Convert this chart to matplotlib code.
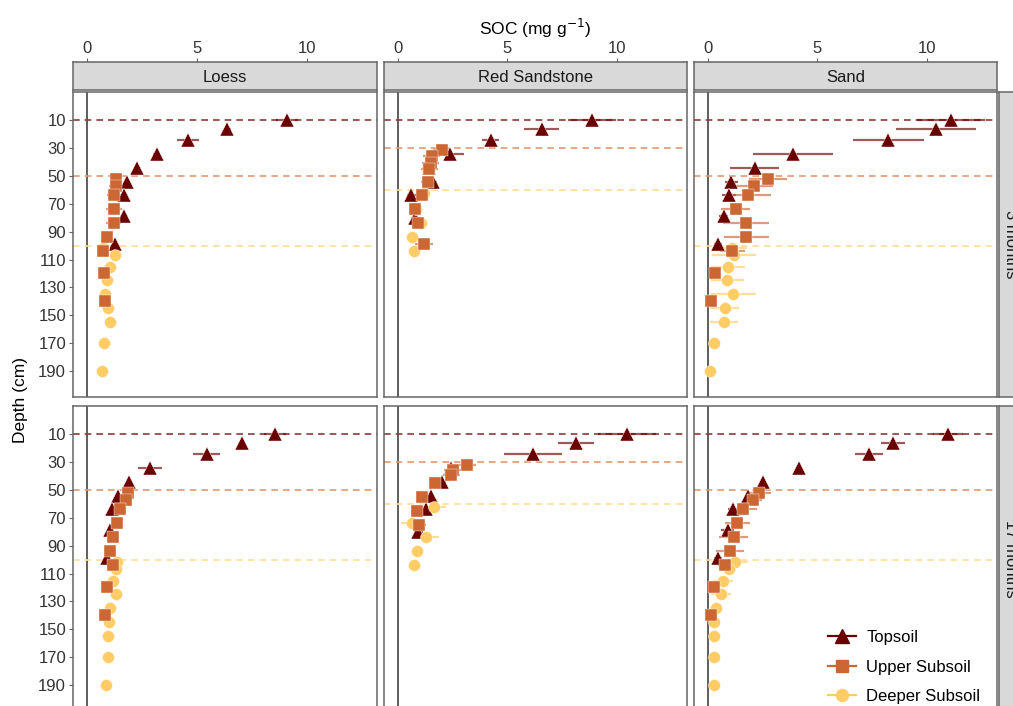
import matplotlib.pyplot as plt
from matplotlib.lines import Line2D

plt.rcParams['font.family'] = ['Liberation Sans', 'DejaVu Sans']

# facet labels and layers
sites = ['Loess', 'Red Sandstone', 'Sand']
times = ['3 months', '17 months']
layers = ['Topsoil', 'Upper Subsoil', 'Deeper Subsoil']
colores = ['#6b0000', '#cc6633', '#ffcc66']
linhas_cor = ['#8e3a3a', '#e39a72', '#ffdd99']
marcadores = ['^', 's', 'o']
tam_marc = [10.5, 8.3, 8.6]

# profundidades (cm)
depth_top = [10, 16, 24, 34, 44, 54, 64, 79, 99]
depth_upper = [52, 57, 64, 74, 84, 94, 104, 120, 140]
depth_deeper = [102, 107, 115, 125, 135, 145, 155, 170, 190]
rs_depth_top = [10, 16, 24, 34, 44, 54, 64, 80]
rs_depth_upper_3 = [31, 36, 41, 45, 54, 64, 74, 84, 99]
rs_depth_upper_17 = [32, 36, 39, 45, 55, 65, 75]
rs_depth_deeper = [62, 74, 84, 94, 104]

# linhas tracejadas (profundidade de cada camada)
loess_lines = [10, 50, 100]
rs_lines = [10, 30, 60]
sand_lines = [10, 50, 100]

# Loess
loess_3_top = [9.08, 6.38, 4.61, 3.17, 2.29, 1.85, 1.70, 1.68, 1.27]
loess_3_top_err = [0.5, 0.15, 0.5, 0.15, 0.1, 0.1, 0.1, 0.1, 0.1]
loess_3_upper = [1.35, 1.32, 1.24, 1.24, 1.23, 0.91, 0.76, 0.77, 0.85]
loess_3_upper_err = [0.25, 0.3, 0.3, 0.35, 0.35, 0.1, 0.1, 0.1, 0.1]
loess_3_deeper = [0.72, 1.27, 1.05, 0.9, 0.85, 0.97, 1.05, 0.77, 0.70]
loess_3_deeper_err = [0.1] * 9
loess_17_top = [8.55, 7.03, 5.44, 2.86, 1.93, 1.42, 1.15, 1.05, 0.94]
loess_17_top_err = [0.5, 0.1, 0.6, 0.55, 0.1, 0.1, 0.1, 0.1, 0.1]
loess_17_upper = [1.87, 1.8, 1.5, 1.39, 1.2, 1.08, 1.2, 0.9, 0.82]
loess_17_upper_err = [0.2, 0.2, 0.15, 0.15, 0.1, 0.1, 0.2, 0.1, 0.1]
loess_17_deeper = [1.38, 1.35, 1.2, 1.32, 1.05, 1.0, 0.96, 0.98, 0.86]
loess_17_deeper_err = [0.1] * 9

# Red Sandstone
rs_3_top = [8.85, 6.55, 4.23, 2.4, 1.42, 1.6, 0.63, 0.8]
rs_3_top_err = [1.09, 0.78, 0.38, 0.64, 0.2, 0.2, 0.2, 0.2]
rs_3_upper = [2.0, 1.55, 1.5, 1.45, 1.38, 1.12, 0.79, 0.94, 1.2]
rs_3_upper_err = [0.4, 0.4, 0.4, 0.4, 0.3, 0.3, 0.2, 0.3, 0.4]
rs_3_deeper = [1.2, 0.82, 1.05, 0.64, 0.74]
rs_3_deeper_err = [0.2, 0.2, 0.3, 0.1, 0.1]
rs_17_top = [10.44, 8.12, 6.17, 2.45, 2.0, 1.5, 1.27, 0.95]
rs_17_top_err = [1.33, 0.8, 1.33, 0.2, 0.2, 0.15, 0.2, 0.2]
rs_17_upper = [3.17, 2.5, 2.45, 1.68, 1.09, 0.9, 0.97]
rs_17_upper_err = [0.4, 0.4, 0.4, 0.2, 0.2, 0.2, 0.3]
rs_17_deeper = [1.65, 0.65, 1.31, 0.9, 0.74]
rs_17_deeper_err = [0.53, 0.5, 0.59, 0.1, 0.1]

# Sand
sand_3_top = [11.08, 10.39, 8.23, 3.88, 2.14, 1.08, 0.97, 0.74, 0.47]
sand_3_top_err = [1.53, 1.82, 1.61, 1.83, 1.1, 0.3, 0.3, 0.2, 0.2]
sand_3_upper = [2.74, 2.09, 1.86, 1.27, 1.73, 1.76, 1.12, 0.35, 0.14]
sand_3_upper_err = [0.86, 0.9, 1.04, 0.68, 1.05, 1.03, 0.57, 0.15, 0.1]
sand_3_deeper = [1.1, 1.2, 0.92, 0.9, 1.15, 0.77, 0.74, 0.29, 0.12]
sand_3_deeper_err = [0.7, 1.0, 0.76, 0.74, 1.06, 0.68, 0.63, 0.05, 0.05]
sand_17_top = [10.92, 8.45, 7.33, 4.14, 2.51, 1.83, 1.15, 0.92, 0.47]
sand_17_top_err = [0.68, 0.55, 0.63, 0.1, 0.1, 0.1, 0.2, 0.3, 0.2]
sand_17_upper = [2.36, 2.06, 1.61, 1.35, 1.18, 1.03, 0.77, 0.27, 0.14]
sand_17_upper_err = [0.53, 0.4, 0.64, 0.57, 0.67, 0.64, 0.3, 0.1, 0.1]
sand_17_deeper = [1.26, 0.97, 0.7, 0.62, 0.39, 0.27, 0.29, 0.29, 0.27]
sand_17_deeper_err = [0.57, 0.3, 0.45, 0.45, 0.1, 0.05, 0.05, 0.05, 0.05]

paineis = {
    (0, 0): [(depth_top, loess_3_top, loess_3_top_err),
             (depth_upper, loess_3_upper, loess_3_upper_err),
             (depth_deeper, loess_3_deeper, loess_3_deeper_err)],
    (1, 0): [(depth_top, loess_17_top, loess_17_top_err),
             (depth_upper, loess_17_upper, loess_17_upper_err),
             (depth_deeper, loess_17_deeper, loess_17_deeper_err)],
    (0, 1): [(rs_depth_top, rs_3_top, rs_3_top_err),
             (rs_depth_upper_3, rs_3_upper, rs_3_upper_err),
             (rs_depth_deeper, rs_3_deeper, rs_3_deeper_err)],
    (1, 1): [(rs_depth_top, rs_17_top, rs_17_top_err),
             (rs_depth_upper_17, rs_17_upper, rs_17_upper_err),
             (rs_depth_deeper, rs_17_deeper, rs_17_deeper_err)],
    (0, 2): [(depth_top, sand_3_top, sand_3_top_err),
             (depth_upper, sand_3_upper, sand_3_upper_err),
             (depth_deeper, sand_3_deeper, sand_3_deeper_err)],
    (1, 2): [(depth_top, sand_17_top, sand_17_top_err),
             (depth_upper, sand_17_upper, sand_17_upper_err),
             (depth_deeper, sand_17_deeper, sand_17_deeper_err)],
}
linhas_site = [loess_lines, rs_lines, sand_lines]

W, H = 1013, 706
fig = plt.figure(figsize=(W / 100, H / 100), dpi=100)


def caixa(x0, y0, x1, y1):
    return [x0 / W, (H - y1) / H, (x1 - x0) / W, (y1 - y0) / H]


col_x = [(73, 377), (384, 687), (694, 997)]
row_y = [(92, 397), (406, 711)]
xlim = (-0.62, 13.17)
ylim = (208.7, -10.3)
borda = '#666666'
ordem = [0, 2, 1]  # topsoil, deeper, upper

for (r, c), series in paineis.items():
    ax = fig.add_axes(caixa(col_x[c][0], row_y[r][0], col_x[c][1], row_y[r][1]))
    ax.set_xlim(*xlim)
    ax.set_ylim(*ylim)
    ax.axvline(0, color='#333333', lw=1.1, zorder=1)
    for k, yv in enumerate(linhas_site[c]):
        ax.axhline(yv, color=linhas_cor[k], lw=1.2, ls=(0, (4, 3)), zorder=1)
    for k in ordem:
        d, v, e = series[k]
        ax.errorbar(v, d, xerr=e, fmt='none', ecolor=colores[k], alpha=0.65,
                    elinewidth=1.6, capsize=0, zorder=2)
        ax.plot(v, d, ls='none', marker=marcadores[k], ms=tam_marc[k],
                color=colores[k], mec='white', mew=0.3, zorder=3)
    ax.set_xticks([])
    ax.set_yticks(range(10, 200, 20))
    if c == 0:
        ax.tick_params(axis='y', length=3, color=borda, labelsize=12, pad=2,
                       labelcolor='#333333')
    else:
        ax.tick_params(axis='y', length=0, labelleft=False)
    for s in ax.spines.values():
        s.set_color(borda)
        s.set_linewidth(1.1)

# faixas superiores com o eixo x
for c, nome in enumerate(sites):
    sx = fig.add_axes(caixa(col_x[c][0], 62, col_x[c][1], 90))
    sx.set_facecolor('#d9d9d9')
    sx.set_xlim(*xlim)
    sx.set_xticks([0, 5, 10])
    sx.xaxis.tick_top()
    sx.tick_params(axis='x', length=3, color=borda, labelsize=12, pad=1,
                   labelcolor='#333333')
    sx.set_yticks([])
    for s in sx.spines.values():
        s.set_color(borda)
        s.set_linewidth(1.1)
    sx.text(0.5, 0.45, nome, transform=sx.transAxes, ha='center', va='center',
            fontsize=12, color='#1a1a1a')

# faixas laterais (cortadas na borda, como no original)
for r, nome in enumerate(times):
    sy = fig.add_axes(caixa(999, row_y[r][0], 1021, row_y[r][1]))
    sy.set_facecolor('#d9d9d9')
    sy.set_xticks([])
    sy.set_yticks([])
    for s in sy.spines.values():
        s.set_color(borda)
        s.set_linewidth(1.1)
    sy.text(0.5, 0.5, nome, transform=sy.transAxes, ha='center', va='center',
            rotation=-90, fontsize=12, color='#1a1a1a')

fig.text(535 / W, 1 - 28 / H, 'SOC (mg g$^{-1}$)', ha='center', va='center',
         fontsize=12.5)
fig.text(20 / W, 1 - 400 / H, 'Depth (cm)', ha='center', va='center',
         rotation=90, fontsize=12.5)

handles = [Line2D([0], [0], color=colores[k], marker=marcadores[k],
                  ms=tam_marc[k], lw=1.6) for k in range(3)]
fig.legend(handles, layers, loc='upper left',
           bbox_to_anchor=(818 / W, 1 - 620 / H), frameon=False,
           fontsize=12, handlelength=1.7, handletextpad=0.6,
           labelspacing=0.88, borderaxespad=0.2)

fig.savefig('out.png', dpi=100)
